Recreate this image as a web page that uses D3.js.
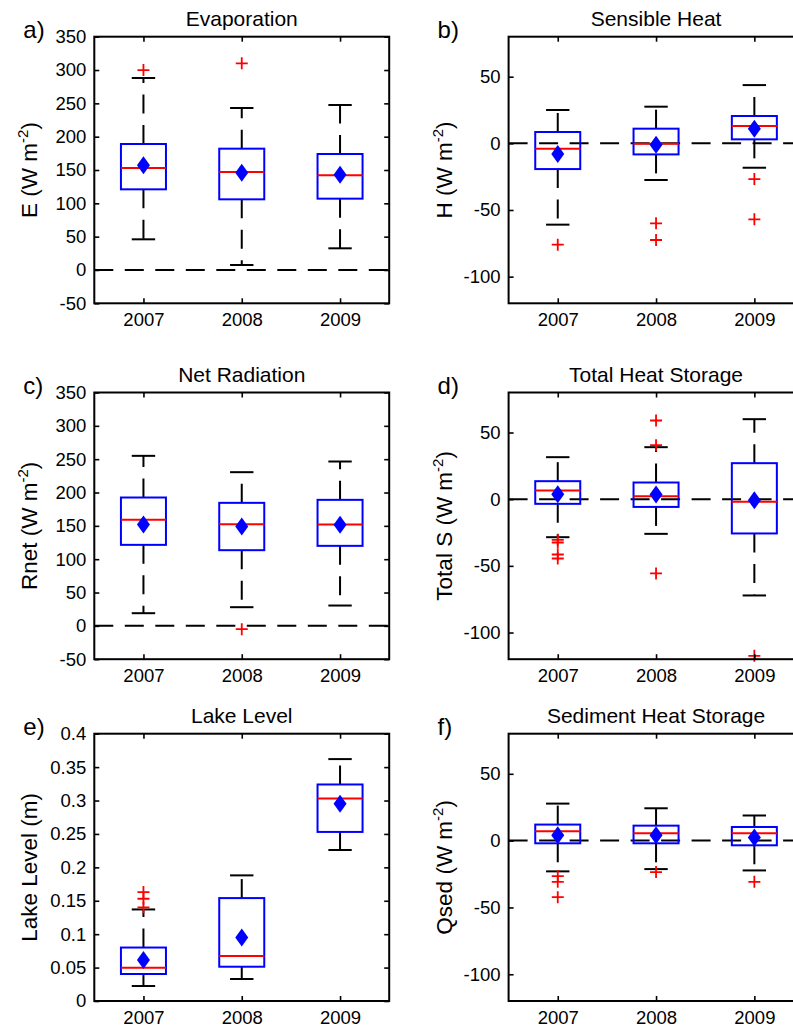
<!DOCTYPE html>
<html>
<head>
<meta charset="utf-8">
<script src="https://cdn.jsdelivr.net/npm/d3@7"></script>
<style>
  html, body { margin: 0; padding: 0; background: #fff; }
  svg { display: block; font-family: "Liberation Sans", Arial, Helvetica, sans-serif; }
</style>
</head>
<body>
<svg id="chart" width="793" height="1027"></svg>
<script>
// Years on every x axis
const years = ["2007", "2008", "2009"];

// Box statistics per year: lower/upper whisker ends, quartiles, median, mean, outliers
const evaporation = [
  { year: "2007", lo: 46, q1: 121, med: 153, q3: 189, hi: 288, mean: 157, out: [300] },
  { year: "2008", lo: 7.5, q1: 106, med: 147, q3: 182, hi: 243, mean: 146, out: [310] },
  { year: "2009", lo: 32.5, q1: 107, med: 142, q3: 174, hi: 247.5, mean: 143, out: [] }
];
const sensibleHeat = [
  { year: "2007", lo: -61, q1: -19.3, med: -4, q3: 8.5, hi: 25, mean: -8, out: [-76] },
  { year: "2008", lo: -27.5, q1: -8.3, med: -0.3, q3: 11, hi: 27.5, mean: -1, out: [-60, -72.5] },
  { year: "2009", lo: -18.3, q1: 3, med: 13, q3: 20.5, hi: 43.7, mean: 11, out: [-26.8, -57] }
];
const netRadiation = [
  { year: "2007", lo: 19, q1: 121.5, med: 159, q3: 192.5, hi: 255, mean: 152, out: [] },
  { year: "2008", lo: 28, q1: 113.5, med: 152.5, q3: 184.5, hi: 230.5, mean: 149, out: [-5] },
  { year: "2009", lo: 30.5, q1: 120, med: 152, q3: 189, hi: 246.5, mean: 151.5, out: [] }
];
const totalStorage = [
  { year: "2007", lo: -28.5, q1: -3.5, med: 6.5, q3: 13.5, hi: 31.5, mean: 3.7, out: [-30.5, -32.5, -41.5, -44.5] },
  { year: "2008", lo: -26, q1: -5.8, med: 2.2, q3: 12.5, hi: 39, mean: 3.5, out: [59, 40.5, -55.7] },
  { year: "2009", lo: -72.2, q1: -25.7, med: -2, q3: 27, hi: 60, mean: -0.8, out: [-117.5] }
];
const lakeLevel = [
  { year: "2007", lo: 0.0224, q1: 0.0404, med: 0.0498, q3: 0.080, hi: 0.137, mean: 0.0613, out: [0.14, 0.153, 0.163] },
  { year: "2008", lo: 0.0329, q1: 0.0513, med: 0.0673, q3: 0.154, hi: 0.188, mean: 0.0952, out: [] },
  { year: "2009", lo: 0.226, q1: 0.253, med: 0.303, q3: 0.324, hi: 0.362, mean: 0.295, out: [] }
];
const sedimentStorage = [
  { year: "2007", lo: -23, q1: -2, med: 7, q3: 12, hi: 27.7, mean: 4, out: [-26.5, -30.8, -42.3] },
  { year: "2008", lo: -21.3, q1: -2, med: 5.5, q3: 11.2, hi: 24.2, mean: 4, out: [-23.5] },
  { year: "2009", lo: -22.3, q1: -3.5, med: 5.5, q3: 10.2, hi: 18.8, mean: 2.3, out: [-30.8] }
];

// Axis domains and tick values
const radiationDomain = [-50, 350];
const radiationTicks = [-50, 0, 50, 100, 150, 200, 250, 300, 350];
const fluxDomain = [-120, 80];
const fluxTicks = [-100, -50, 0, 50];
const levelDomain = [0, 0.4];
const levelTicks = [0, 0.05, 0.1, 0.15, 0.2, 0.25, 0.3, 0.35, 0.4];

// Panel grid (pixel frame of each axes box)
const cols = [{ left: 94.3, right: 389.2 }, { left: 508.6, right: 803.5 }];
const rows = [{ top: 36.7, bottom: 303.3 }, { top: 392.5, bottom: 659.2 }, { top: 733.7, bottom: 1001 }];

const panels = [
  { letter: "a)", title: "Evaporation", label: ["E (W m", "-2", ")"], data: evaporation, domain: radiationDomain, ticks: radiationTicks, zero: true, col: 0, row: 0 },
  { letter: "b)", title: "Sensible Heat", label: ["H (W m", "-2", ")"], data: sensibleHeat, domain: fluxDomain, ticks: fluxTicks, zero: true, col: 1, row: 0 },
  { letter: "c)", title: "Net Radiation", label: ["Rnet (W m", "-2", ")"], data: netRadiation, domain: radiationDomain, ticks: radiationTicks, zero: true, col: 0, row: 1 },
  { letter: "d)", title: "Total Heat Storage", label: ["Total S (W m", "-2", ")"], data: totalStorage, domain: fluxDomain, ticks: fluxTicks, zero: true, col: 1, row: 1 },
  { letter: "e)", title: "Lake Level", label: ["Lake Level (m)"], data: lakeLevel, domain: levelDomain, ticks: levelTicks, zero: false, col: 0, row: 2 },
  { letter: "f)", title: "Sediment Heat Storage", label: ["Qsed (W m", "-2", ")"], data: sedimentStorage, domain: fluxDomain, ticks: fluxTicks, zero: true, col: 1, row: 2 }
];

const BLUE = "#0000ff", RED = "#ff0000", BLACK = "#000";
const svg = d3.select("#chart");

panels.forEach(p => {
  const c = cols[p.col], r = rows[p.row];
  const x = d3.scalePoint().domain(years).range([c.left, c.right]).padding(0.5);
  const y = d3.scaleLinear().domain(p.domain).range([r.bottom, r.top]);
  const step = x.step();
  const boxHalf = step * 0.229;
  const capHalf = step * 0.119;
  const g = svg.append("g");

  // zero reference line
  if (p.zero) {
    g.append("line")
      .attr("x1", c.left).attr("x2", c.right)
      .attr("y1", y(0)).attr("y2", y(0))
      .attr("stroke", BLACK).attr("stroke-width", 2)
      .attr("stroke-dasharray", "19,11.5");
  }

  const box = g.selectAll("g.box").data(p.data).join("g").attr("class", "box");

  // whiskers, dashed from the box edge outward
  box.append("line")
    .attr("x1", d => x(d.year)).attr("x2", d => x(d.year))
    .attr("y1", d => y(d.q3)).attr("y2", d => y(d.hi))
    .attr("stroke", BLACK).attr("stroke-width", 2).attr("stroke-dasharray", "19,11.5");
  box.append("line")
    .attr("x1", d => x(d.year)).attr("x2", d => x(d.year))
    .attr("y1", d => y(d.q1)).attr("y2", d => y(d.lo))
    .attr("stroke", BLACK).attr("stroke-width", 2).attr("stroke-dasharray", "19,11.5");

  // whisker caps
  ["hi", "lo"].forEach(k => {
    box.append("line")
      .attr("x1", d => x(d.year) - capHalf).attr("x2", d => x(d.year) + capHalf)
      .attr("y1", d => y(d[k])).attr("y2", d => y(d[k]))
      .attr("stroke", BLACK).attr("stroke-width", 2);
  });

  // interquartile box
  box.append("rect")
    .attr("x", d => x(d.year) - boxHalf).attr("width", boxHalf * 2)
    .attr("y", d => y(d.q3)).attr("height", d => y(d.q1) - y(d.q3))
    .attr("fill", "none").attr("stroke", BLUE).attr("stroke-width", 2);

  // median
  box.append("line")
    .attr("x1", d => x(d.year) - boxHalf).attr("x2", d => x(d.year) + boxHalf)
    .attr("y1", d => y(d.med)).attr("y2", d => y(d.med))
    .attr("stroke", RED).attr("stroke-width", 2);

  // mean diamond
  box.append("path")
    .attr("d", "M0,-9L6.5,0L0,9L-6.5,0Z")
    .attr("transform", d => `translate(${x(d.year)},${y(d.mean)})`)
    .attr("fill", BLUE);

  // outliers
  box.selectAll("path.out").data(d => d.out.map(v => ({ year: d.year, v })))
    .join("path").attr("class", "out")
    .attr("d", "M-6,0H6M0,-6V6")
    .attr("transform", d => `translate(${x(d.year)},${y(d.v)})`)
    .attr("stroke", RED).attr("stroke-width", 1.8).attr("fill", "none");

  // axes with inward ticks on all four sides
  const axes = g.append("g").attr("font-size", 18.5);
  const left = axes.append("g").attr("transform", `translate(${c.left},0)`)
    .call(d3.axisLeft(y).tickValues(p.ticks).tickSize(-5).tickPadding(8).tickFormat(d => String(d)));
  const right = axes.append("g").attr("transform", `translate(${c.right},0)`)
    .call(d3.axisRight(y).tickValues(p.ticks).tickSize(-5).tickFormat(""));
  const bottom = axes.append("g").attr("transform", `translate(0,${r.bottom})`)
    .call(d3.axisBottom(x).tickSize(-5).tickPadding(10));
  const top = axes.append("g").attr("transform", `translate(0,${r.top})`)
    .call(d3.axisTop(x).tickSize(-5).tickFormat(""));
  [left, right, bottom, top].forEach(a => {
    a.select(".domain").remove();
    a.selectAll("line").attr("stroke", BLACK).attr("stroke-width", 1.6);
    a.selectAll("text").attr("fill", BLACK).attr("font-family", null);
    a.attr("font-family", null).attr("font-size", null);
  });

  // axes frame
  g.append("rect")
    .attr("x", c.left).attr("y", r.top)
    .attr("width", c.right - c.left).attr("height", r.bottom - r.top)
    .attr("fill", "none").attr("stroke", BLACK).attr("stroke-width", 2);

  // title
  g.append("text")
    .attr("x", (c.left + c.right) / 2).attr("y", r.top - 11)
    .attr("text-anchor", "middle").attr("font-size", 21)
    .text(p.title);

  // panel letter
  g.append("text")
    .attr("x", c.left - 71).attr("y", r.top + 1)
    .attr("font-size", 24)
    .text(p.letter);

  // y-axis label
  const lab = g.append("text")
    .attr("transform", `translate(${c.left - 57},${(r.top + r.bottom) / 2}) rotate(-90)`)
    .attr("text-anchor", "middle").attr("font-size", 22.5);
  lab.append("tspan").text(p.label[0]);
  if (p.label.length > 1) {
    lab.append("tspan").attr("dy", -9).attr("font-size", 15).text(p.label[1]);
    lab.append("tspan").attr("dy", 9).text(p.label[2]);
  }
});
</script>
</body>
</html>
